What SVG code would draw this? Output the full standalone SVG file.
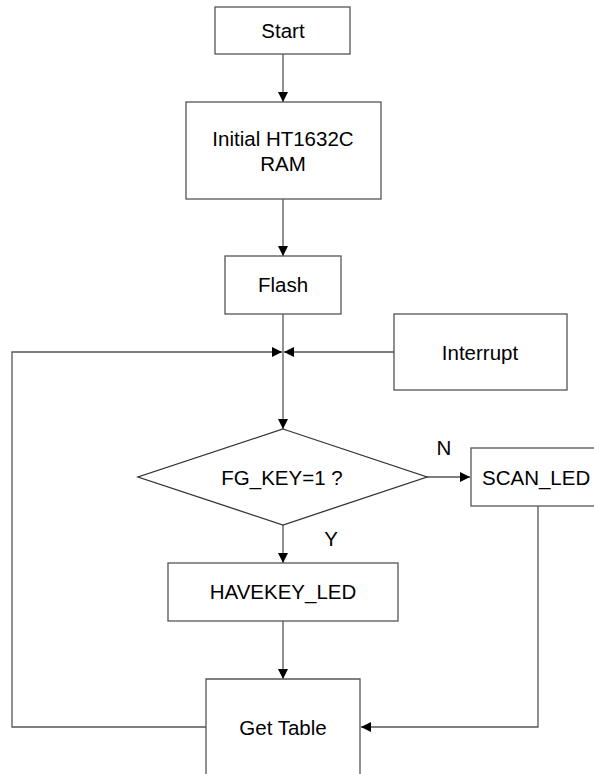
<svg xmlns="http://www.w3.org/2000/svg" width="594" height="774" viewBox="0 0 594 774">
<defs>
<marker id="ah" viewBox="0 0 10 10" refX="10" refY="5" markerWidth="10" markerHeight="10" markerUnits="userSpaceOnUse" orient="auto">
<path d="M0,0 L10,5 L0,10 Z" fill="#000"/>
</marker>
</defs>
<style>
.box{fill:#fff;stroke:#555;stroke-width:1.3}
.lbl{font-family:"Liberation Sans",Arial,sans-serif;font-size:20.5px;fill:#000;text-anchor:middle;dominant-baseline:central}
.ln{fill:none;stroke:#555;stroke-width:1.3}
</style>
<rect width="594" height="774" fill="#fff"/>
<g id="connectors">
<line class="ln" x1="283" y1="54" x2="283" y2="102" marker-end="url(#ah)"/>
<line class="ln" x1="283" y1="199" x2="283" y2="256" marker-end="url(#ah)"/>
<line class="ln" x1="283" y1="314" x2="283" y2="429" marker-end="url(#ah)"/>
<polyline class="ln" points="206,727 12,727 12,352 282,352" marker-end="url(#ah)"/>
<line class="ln" x1="394" y1="352" x2="284" y2="352" marker-end="url(#ah)"/>
<line class="ln" x1="427" y1="477" x2="470" y2="477" marker-end="url(#ah)"/>
<line class="ln" x1="283" y1="525" x2="283" y2="563" marker-end="url(#ah)"/>
<line class="ln" x1="283" y1="621" x2="283" y2="679" marker-end="url(#ah)"/>
<polyline class="ln" points="538,506 538,727 361,727" marker-end="url(#ah)"/>
<text class="lbl" x="444" y="447">N</text>
<text class="lbl" x="331" y="538">Y</text>
</g>
<g id="start">
<rect class="box" x="215" y="7" width="135" height="47"/>
<text class="lbl" x="283" y="30">Start</text>
</g>
<g id="init">
<rect class="box" x="186" y="102" width="195" height="97"/>
<text class="lbl" x="283" y="138">Initial HT1632C</text>
<text class="lbl" x="283" y="163">RAM</text>
</g>
<g id="flash">
<rect class="box" x="225" y="256" width="116" height="58"/>
<text class="lbl" x="283" y="284">Flash</text>
</g>
<g id="interrupt">
<rect class="box" x="394" y="314" width="173" height="76"/>
<text class="lbl" x="480" y="352">Interrupt</text>
</g>
<g id="decision">
<polygon class="box" points="283,429 427,477 283,525 138,477" style="stroke:#333"/>
<text class="lbl" x="282" y="477">FG_KEY=1 ?</text>
</g>
<g id="scan">
<rect class="box" x="471" y="448" width="140" height="58"/>
<text class="lbl" x="482" y="477" style="text-anchor:start">SCAN_LED</text>
</g>
<g id="havekey">
<rect class="box" x="168" y="563" width="230" height="58"/>
<text class="lbl" x="283" y="591">HAVEKEY_LED</text>
</g>
<g id="gettable">
<path class="box" d="M206,780 L206,679 L360,679 L360,780"/>
<text class="lbl" x="283" y="727">Get Table</text>
</g>
</svg>
